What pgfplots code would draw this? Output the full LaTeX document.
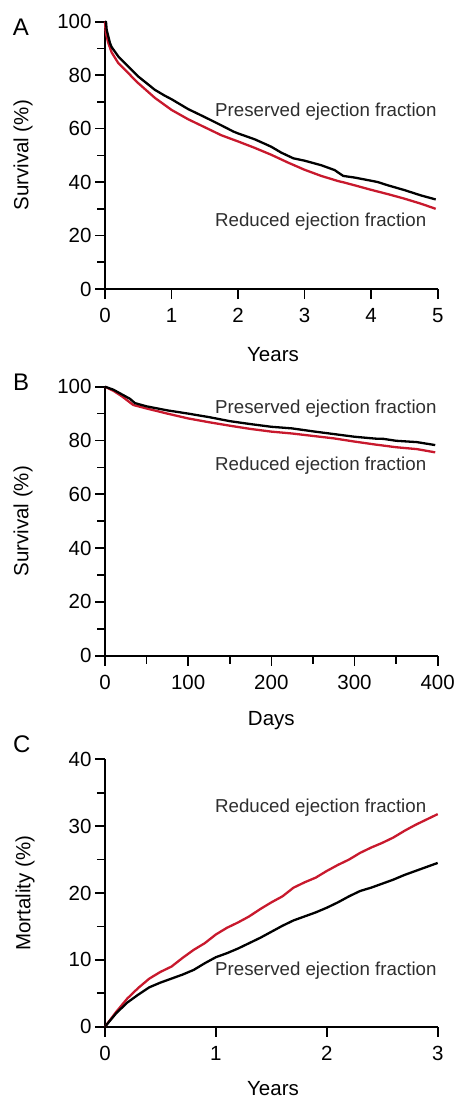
\documentclass[border=0pt]{standalone}
\usepackage{pgfplots}
\pgfplotsset{compat=1.18}
\usepackage{fontspec}
\setmainfont{Liberation Sans}
\definecolor{redEF}{RGB}{200,25,45}
\newcommand\tickfont{\fontsize{20.5}{24}\selectfont}
\newcommand\labfont{\fontsize{20.5}{24}\selectfont}
\newcommand\annfont{\fontsize{18.7}{22}\selectfont}
\newcommand\letfont{\fontsize{24}{28}\selectfont}
\pgfplotsset{panel/.style={
  scale only axis, width=332.7pt,
  axis lines=left, axis line style={-, line width=1.7pt},
  tick style={line width=1.7pt, black},
  tick align=outside, major tick length=10pt, minor tick length=8pt,
  tick label style={font=\tickfont},
  label style={font=\labfont},
  /pgf/number format/assume math mode=true,
  clip=false,
  xticklabel style={yshift=-6pt},
  every axis plot/.append style={line width=2.3pt, line join=round, mark=none},
}}
\begin{document}
\begin{tikzpicture}
\useasboundingbox (0pt,0pt) rectangle (457pt,-1099pt);
% Panel A
\begin{axis}[panel, at={(105pt,-289pt)}, anchor=south west, height=267.3pt,
  xmin=0, xmax=5, ymin=0, ymax=100,
  xtick={0,1,2,3,4,5}, ytick={0,20,40,60,80,100}, minor ytick={10,30,50,70,90},
  xlabel={Years}, ylabel={Survival (\%)},
  x label style={at={(axis description cs:0.505,-0.273)}, anchor=base},
  y label style={at={(axis description cs:-0.2465,0.5)}, anchor=center}]
\addplot[redEF] coordinates {(0,100) (0.005,98) (0.01,96.5) (0.02,95) (0.05,92) (0.1,88.5) (0.2,84.5) (0.3,82) (0.5,77) (0.75,71.5) (1.0,67) (1.25,63.5) (1.5,60.5) (1.75,57.5) (2.0,55.2) (2.25,52.8) (2.5,50.2) (2.75,47.3) (3.0,44.6) (3.25,42.3) (3.5,40.4) (3.6,39.8) (3.75,38.8) (4.0,37.1) (4.25,35.5) (4.5,33.8) (4.75,31.9) (4.97,30.0)};
\addplot[black] coordinates {(0,100) (0.015,100) (0.025,97) (0.05,94.5) (0.075,92) (0.1,90.5) (0.2,87) (0.3,84.5) (0.5,79.5) (0.75,74.5) (0.9,72.3) (1.0,71) (1.25,67.3) (1.5,64.3) (1.75,61.2) (1.93,58.9) (2.0,58.2) (2.25,56) (2.43,54) (2.5,53.2) (2.65,51) (2.83,48.9) (3.0,48) (3.25,46.3) (3.45,44.5) (3.58,42.3) (3.75,41.7) (4.0,40.5) (4.1,40) (4.25,38.8) (4.5,37) (4.75,35) (4.97,33.5)};
\node[anchor=base west, inner sep=0, font=\annfont, text=black!82] at (rel axis cs:0.3306,0.645) {Preserved ejection fraction};
\node[anchor=base west, inner sep=0, font=\annfont, text=black!82] at (rel axis cs:0.3306,0.233) {Reduced ejection fraction};
\end{axis}
% Panel B
\begin{axis}[panel, at={(105pt,-655.7pt)}, anchor=south west, height=269pt,
  xmin=0, xmax=400, ymin=0, ymax=100,
  xtick={0,100,200,300,400}, minor xtick={50,150,250,350},
  ytick={0,20,40,60,80,100}, minor ytick={10,30,50,70,90},
  xlabel={Days}, ylabel={Survival (\%)},
  x label style={at={(axis description cs:0.5,-0.258)}, anchor=base},
  y label style={at={(axis description cs:-0.2465,0.5)}, anchor=center}]
\addplot[redEF] coordinates {(0,100) (10,98.5) (20,96.5) (34,93.2) (50,91.9) (75,90) (100,88.2) (125,86.8) (150,85.5) (175,84.3) (200,83.3) (225,82.6) (250,81.7) (275,80.8) (300,79.6) (325,78.5) (350,77.5) (375,76.8) (397,75.6)};
\addplot[black] coordinates {(0,100) (10,98.9) (20,97.2) (30,95.5) (36,93.9) (50,92.7) (75,91.2) (100,90) (125,88.7) (150,87.2) (175,86.1) (200,85.1) (225,84.5) (250,83.4) (275,82.4) (300,81.4) (325,80.7) (335,80.6) (350,79.9) (375,79.4) (397,78.3)};
\node[anchor=base west, inner sep=0, font=\annfont, text=black!82] at (rel axis cs:0.3306,0.901) {Preserved ejection fraction};
\node[anchor=base west, inner sep=0, font=\annfont, text=black!82] at (rel axis cs:0.3306,0.688) {Reduced ejection fraction};
\end{axis}
% Panel C
\begin{axis}[panel, at={(105pt,-1026.7pt)}, anchor=south west, height=267.4pt,
  xmin=0, xmax=3, ymin=0, ymax=40,
  xtick={0,1,2,3}, ytick={0,10,20,30,40}, minor ytick={5,15,25,35},
  xlabel={Years}, ylabel={Mortality (\%)},
  x label style={at={(axis description cs:0.505,-0.256)}, anchor=base},
  y label style={at={(axis description cs:-0.24,0.5)}, anchor=center}]
\addplot[redEF] coordinates {(0,0) (0.1,2.2) (0.2,4.2) (0.3,5.8) (0.4,7.2) (0.5,8.2) (0.6,9.0) (0.7,10.3) (0.8,11.5) (0.9,12.5) (1.0,13.8) (1.1,14.8) (1.2,15.6) (1.3,16.5) (1.4,17.6) (1.5,18.6) (1.6,19.5) (1.7,20.8) (1.8,21.6) (1.9,22.3) (2.0,23.3) (2.1,24.2) (2.2,25.0) (2.3,26.0) (2.4,26.8) (2.5,27.5) (2.6,28.3) (2.7,29.3) (2.8,30.2) (2.9,31.0) (3.0,31.8)};
\addplot[black] coordinates {(0,0) (0.1,2.0) (0.2,3.6) (0.3,4.8) (0.4,5.9) (0.5,6.6) (0.6,7.2) (0.7,7.8) (0.8,8.5) (0.9,9.5) (1.0,10.4) (1.1,11.0) (1.2,11.7) (1.3,12.5) (1.4,13.3) (1.5,14.2) (1.6,15.1) (1.7,15.9) (1.8,16.5) (1.9,17.1) (2.0,17.8) (2.1,18.6) (2.2,19.5) (2.3,20.3) (2.4,20.8) (2.5,21.4) (2.6,22.0) (2.7,22.7) (2.8,23.3) (2.9,23.9) (3.0,24.5)};
\node[anchor=base west, inner sep=0, font=\annfont, text=black!82] at (rel axis cs:0.3306,0.80) {Reduced ejection fraction};
\node[anchor=base west, inner sep=0, font=\annfont, text=black!82] at (rel axis cs:0.3306,0.193) {Preserved ejection fraction};
\end{axis}
\node[anchor=base west, inner sep=0, font=\letfont] at (12.7pt,-36pt) {A};
\node[anchor=base west, inner sep=0, font=\letfont] at (13pt,-390.7pt) {B};
\node[anchor=base west, inner sep=0, font=\letfont] at (13pt,-752.7pt) {C};
\end{tikzpicture}
\end{document}
